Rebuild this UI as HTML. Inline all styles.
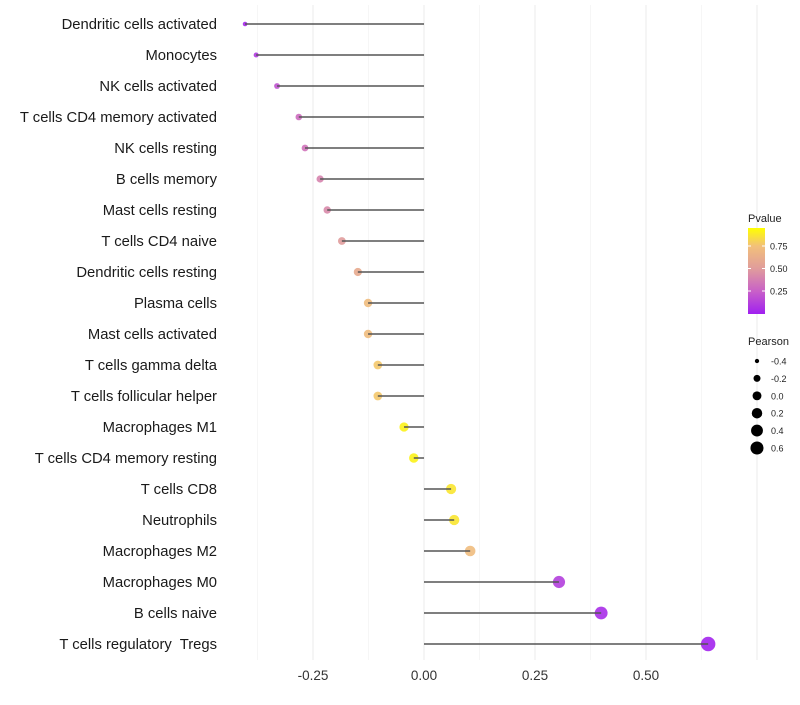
<!DOCTYPE html>
<html><head><meta charset="utf-8"><style>
body{margin:0;background:#fff;font-family:"Liberation Sans",sans-serif}
svg text{font-family:"Liberation Sans",sans-serif;white-space:pre}
</style></head><body>
<svg id="c" width="800" height="700"></svg>
<script>
const categories=["Dendritic cells activated","Monocytes","NK cells activated","T cells CD4 memory activated","NK cells resting","B cells memory","Mast cells resting","T cells CD4 naive","Dendritic cells resting","Plasma cells","Mast cells activated","T cells gamma delta","T cells follicular helper","Macrophages M1","T cells CD4 memory resting","T cells CD8","Neutrophils","Macrophages M2","Macrophages M0","B cells naive","T cells regulatory  Tregs"];
const pearson=[-0.403,-0.378,-0.331,-0.282,-0.268,-0.234,-0.218,-0.185,-0.149,-0.126,-0.126,-0.104,-0.104,-0.045,-0.023,0.061,0.068,0.104,0.304,0.399,0.640];
const pvalues=[0.03,0.1,0.2,0.3,0.33,0.4,0.42,0.5,0.6,0.72,0.72,0.78,0.78,0.95,0.95,0.9,0.9,0.72,0.12,0.05,0.02];
const xTicks=[-0.25,0,0.25,0.5];
const xTickLabels=["-0.25","0.00","0.25","0.50"];
const colorTicks=[0.25,0.5,0.75];
const sizeLegend=[-0.4,-0.2,0,0.2,0.4,0.6];
const sizeLegendLabels=["-0.4","-0.2","0.0","0.2","0.4","0.6"];

const svg=document.getElementById('c');
const NS="http://www.w3.org/2000/svg";
function mk(t,a,p){const e=document.createElementNS(NS,t);for(const k in a)e.setAttribute(k,a[k]);(p||svg).appendChild(e);return e;}
const x=v=>424+v*444;
const y=i=>24+i*31;
const r=v=>Math.sqrt(Math.max(1,5+(v+0.41)*45));
const stops=[[0,[160,32,240]],[0.25,[200,96,200]],[0.5,[224,156,156]],[0.75,[242,192,122]],[1,[255,255,0]]];
function col(p){p=Math.max(0,Math.min(1,p));for(let i=1;i<stops.length;i++){if(p<=stops[i][0]){const[a,ca]=stops[i-1],[b,cb]=stops[i];const t=(p-a)/(b-a);return 'rgb('+ca.map((c,j)=>Math.round(c+(cb[j]-c)*t)).join(',')+')';}}return 'rgb(255,255,0)';}

const defs=mk('defs',{});
const lg=mk('linearGradient',{id:'pg',x1:0,y1:1,x2:0,y2:0},defs);
stops.forEach(s=>mk('stop',{offset:Math.min(1,s[0]/0.95),'stop-color':'rgb('+s[1].join(',')+')'},lg));

const grid=mk('g',{});


for(let v=-0.375;v<=0.75;v+=0.125){
  const major=Math.abs((v/0.25)-Math.round(v/0.25))<1e-6;
  mk('line',{x1:x(v),x2:x(v),y1:5,y2:660,stroke:major?'#ebebeb':'#f4f4f4','stroke-width':major?1:0.8},grid);
}
xTicks.forEach((v,i)=>{const t=mk('text',{x:x(v),y:680,'text-anchor':'middle','font-size':13.5,fill:'#333'});t.textContent=xTickLabels[i];});

categories.forEach((c,i)=>{
  const t=mk('text',{x:217,y:y(i)+5,'text-anchor':'end','font-size':14.8,fill:'#1a1a1a'});t.textContent=c;
  
  
  const cir=mk('circle',{cx:x(pearson[i]),cy:y(i),r:r(pearson[i]),fill:col(pvalues[i]),'fill-opacity':0.9});
  
  
  const l=mk('line',{x1:x(0),x2:x(pearson[i]),y1:y(i),y2:y(i),stroke:'#555','stroke-width':1.5});
  
  
});

const lt=mk('text',{x:748,y:222,'font-size':11,fill:'#222'});lt.textContent='Pvalue';


const cb=mk('rect',{x:748,y:228,width:17,height:86,fill:'url(#pg)'});


const cy=p=>313.5-p*90;
colorTicks.forEach(p=>{
  mk('line',{x1:748,x2:751,y1:cy(p),y2:cy(p),stroke:'#fff'});
  mk('line',{x1:762,x2:765,y1:cy(p),y2:cy(p),stroke:'#fff'});
  const t=mk('text',{x:770,y:cy(p)+3.5,'font-size':9,fill:'#222'});t.textContent=p.toFixed(2);
  
  
});
const pt=mk('text',{x:748,y:345,'font-size':11,fill:'#222'});pt.textContent='Pearson';


sizeLegend.forEach((v,i)=>{
  const yy=361+i*17.4;
  const c=mk('circle',{cx:757,cy:yy,r:r(v)*0.92,fill:'#000'});
  
  
  const t=mk('text',{x:771,y:yy+3.5,'font-size':9,fill:'#222'});t.textContent=sizeLegendLabels[i];
  
  
});
</script>
</body></html>
